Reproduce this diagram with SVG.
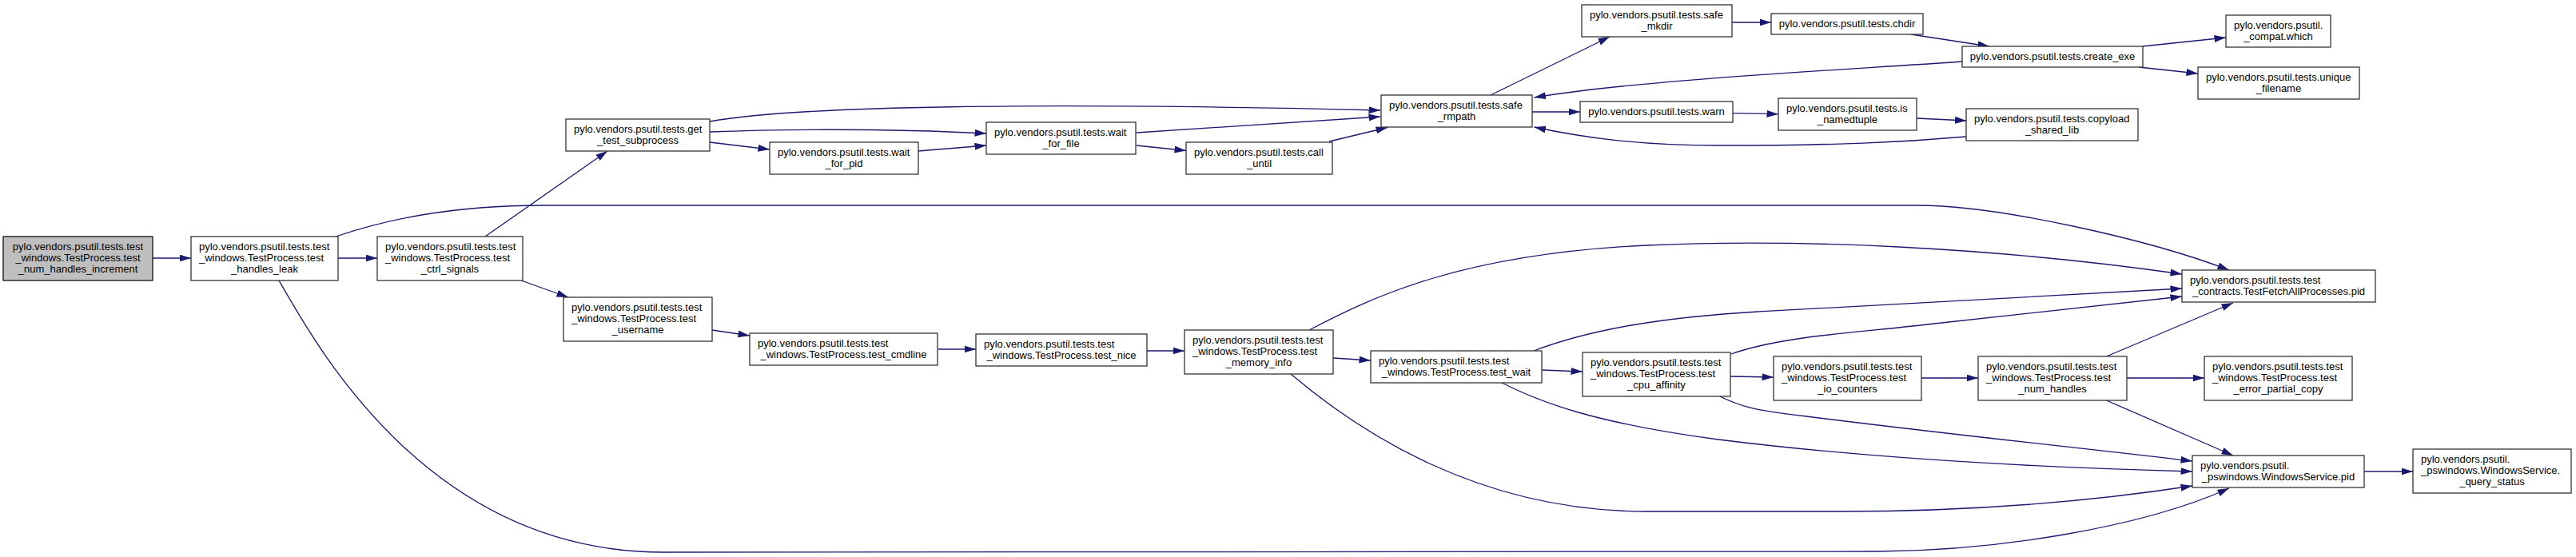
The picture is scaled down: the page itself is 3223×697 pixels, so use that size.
<svg xmlns="http://www.w3.org/2000/svg" width="3223" height="697" viewBox="0 0 3223 697">
<style>
.node rect{fill:#fff;stroke:#333;stroke-width:1.3}
.root rect{fill:#bfbfbf;stroke:#111}
text{font-family:"Liberation Sans",Arial,sans-serif;font-size:13px;fill:#000}
.c{text-anchor:middle}
#edges path{fill:none;stroke:#191970;stroke-width:1.3;marker-end:url(#arr)}
</style>
<defs>
<marker id="arr" markerUnits="userSpaceOnUse" markerWidth="16" markerHeight="10" refX="14.5" refY="4.5" orient="auto"><path d="M0,0 L14.5,4.5 L0,9 Z" fill="#191970" stroke="none"/></marker>
</defs>
<rect x="0" y="0" width="3223" height="697" fill="#fff"/>
<g id="edges">
<path d="M191,323 L239,323"/>
<path d="M423,323 L472,323"/>
<path d="M420,296 C480,276 560,257 680,257 L2400,257 C2500,257 2690,300 2789,338"/>
<path d="M349,351 C400,440 540,691 830,691 L2350,690 C2500,689 2680,660 2789,611"/>
<path d="M607,296 L760,189"/>
<path d="M652,351 L711,372"/>
<path d="M888,152 C1000,132 1300,128 1727,138"/>
<path d="M1422,166 L1727,146"/>
<path d="M888,165 C960,162 1100,160 1234,167"/>
<path d="M888,178 L963,187"/>
<path d="M1149,189 L1234,182"/>
<path d="M1422,182 L1484,188.5"/>
<path d="M1663,177 L1736,159.5"/>
<path d="M1865,119 L2014,46"/>
<path d="M1917,140 L1977,140"/>
<path d="M2167,28 L2216,28"/>
<path d="M2391,43 L2489,58"/>
<path d="M2455,77 C2300,88 2050,100 1919.5,122"/>
<path d="M2680.5,58 L2785,47"/>
<path d="M2676,84 L2750,92"/>
<path d="M2168,141.7 L2225,142.7"/>
<path d="M2398,148 L2460.5,151"/>
<path d="M2460,171 C2380,178 2300,182 2150,182 C2050,182 1980,172 1919.5,159"/>
<path d="M891,413 L938,420"/>
<path d="M1174,437 L1221,437"/>
<path d="M1435,439 L1482,439"/>
<path d="M1668,448 L1715,451"/>
<path d="M1929.5,463 L1980,465"/>
<path d="M2165,471 L2219,472"/>
<path d="M2404,473 L2475,473"/>
<path d="M2661,473 L2758,473"/>
<path d="M2635.5,446 L2794,379"/>
<path d="M2635.5,501 L2794,570"/>
<path d="M2958,590 L3019,590"/>
<path d="M1638,413 C1720,370 1830,318 2060,307 C2250,298 2500,310 2730,343"/>
<path d="M1919,439 C1990,412 2080,397 2200,390 C2400,380 2600,368 2730,361"/>
<path d="M2166,443 C2230,420 2330,416 2420,405 C2550,390 2650,380 2730,371"/>
<path d="M2152,496 C2180,510 2200,514 2260,521 C2450,545 2600,560 2743,577"/>
<path d="M1879,479 C1930,505 2000,530 2150,550 C2350,575 2550,585 2743,590"/>
<path d="M1615,468 C1700,540 1850,640 2060,640 L2300,640 C2450,640 2600,630 2743,608"/>
</g>
<g id="n1" class="node root"><rect x="4" y="296" width="187" height="55"/><text class="c" x="97.5" y="313">pylo.vendors.psutil.tests.test</text><text class="c" x="97.5" y="327.2">_windows.TestProcess.test</text><text class="c" x="97.5" y="341.4">_num_handles_increment</text></g>
<g id="n2" class="node"><rect x="239" y="296" width="184" height="55"/><text x="249" y="313">pylo.vendors.psutil.tests.test</text><text x="249" y="327.2">_windows.TestProcess.test</text><text class="c" x="331" y="341.4">_handles_leak</text></g>
<g id="n3" class="node"><rect x="472" y="296" width="182" height="55"/><text x="482" y="313">pylo.vendors.psutil.tests.test</text><text x="482" y="327.2">_windows.TestProcess.test</text><text class="c" x="563" y="341.4">_ctrl_signals</text></g>
<g id="n4" class="node"><rect x="708" y="149" width="180" height="40"/><text x="718" y="166">pylo.vendors.psutil.tests.get</text><text class="c" x="798" y="180.2">_test_subprocess</text></g>
<g id="n5" class="node"><rect x="963" y="178" width="186" height="40"/><text x="973" y="195">pylo.vendors.psutil.tests.wait</text><text class="c" x="1056" y="209.2">_for_pid</text></g>
<g id="n6" class="node"><rect x="1234" y="153" width="187" height="40"/><text x="1244" y="170">pylo.vendors.psutil.tests.wait</text><text class="c" x="1327.5" y="184.2">_for_file</text></g>
<g id="n7" class="node"><rect x="1484" y="178" width="183" height="40"/><text x="1494" y="195">pylo.vendors.psutil.tests.call</text><text class="c" x="1575.5" y="209.2">_until</text></g>
<g id="n8" class="node"><rect x="1728" y="119" width="189" height="40"/><text x="1738" y="136">pylo.vendors.psutil.tests.safe</text><text class="c" x="1822.5" y="150.2">_rmpath</text></g>
<g id="n9" class="node"><rect x="1979" y="6" width="188" height="40"/><text x="1989" y="23">pylo.vendors.psutil.tests.safe</text><text class="c" x="2073" y="37.2">_mkdir</text></g>
<g id="n10" class="node"><rect x="2216" y="17" width="190" height="26"/><text class="c" x="2311" y="34">pylo.vendors.psutil.tests.chdir</text></g>
<g id="n11" class="node"><rect x="2455" y="58" width="226" height="26"/><text class="c" x="2568" y="75">pylo.vendors.psutil.tests.create_exe</text></g>
<g id="n12" class="node"><rect x="2785" y="19" width="131" height="40"/><text x="2795" y="36">pylo.vendors.psutil.</text><text class="c" x="2850.5" y="50.2">_compat.which</text></g>
<g id="n13" class="node"><rect x="2750" y="84" width="202" height="40"/><text x="2760" y="101">pylo.vendors.psutil.tests.unique</text><text class="c" x="2851" y="115.2">_filename</text></g>
<g id="n14" class="node"><rect x="1977" y="127" width="191" height="26"/><text class="c" x="2072.5" y="144">pylo.vendors.psutil.tests.warn</text></g>
<g id="n15" class="node"><rect x="2225" y="123" width="173" height="40"/><text x="2235" y="140">pylo.vendors.psutil.tests.is</text><text class="c" x="2311.5" y="154.2">_namedtuple</text></g>
<g id="n16" class="node"><rect x="2460" y="136" width="215" height="40"/><text x="2470" y="153">pylo.vendors.psutil.tests.copyload</text><text class="c" x="2567.5" y="167.2">_shared_lib</text></g>
<g id="n17" class="node"><rect x="705" y="372" width="186" height="55"/><text x="715" y="389">pylo.vendors.psutil.tests.test</text><text x="715" y="403.2">_windows.TestProcess.test</text><text class="c" x="798" y="417.4">_username</text></g>
<g id="n18" class="node"><rect x="938" y="417" width="235" height="40"/><text x="948" y="434">pylo.vendors.psutil.tests.test</text><text class="c" x="1055.5" y="448.2">_windows.TestProcess.test_cmdline</text></g>
<g id="n19" class="node"><rect x="1221" y="418" width="214" height="40"/><text x="1231" y="435">pylo.vendors.psutil.tests.test</text><text class="c" x="1328" y="449.2">_windows.TestProcess.test_nice</text></g>
<g id="n20" class="node"><rect x="1482" y="413" width="186" height="55"/><text x="1492" y="430">pylo.vendors.psutil.tests.test</text><text x="1492" y="444.2">_windows.TestProcess.test</text><text class="c" x="1575" y="458.4">_memory_info</text></g>
<g id="n21" class="node"><rect x="1715" y="439" width="214" height="40"/><text x="1725" y="456">pylo.vendors.psutil.tests.test</text><text class="c" x="1822" y="470.2">_windows.TestProcess.test_wait</text></g>
<g id="n22" class="node"><rect x="1980" y="441" width="185" height="55"/><text x="1990" y="458">pylo.vendors.psutil.tests.test</text><text x="1990" y="472.2">_windows.TestProcess.test</text><text class="c" x="2072.5" y="486.4">_cpu_affinity</text></g>
<g id="n23" class="node"><rect x="2219" y="446" width="185" height="55"/><text x="2229" y="463">pylo.vendors.psutil.tests.test</text><text x="2229" y="477.2">_windows.TestProcess.test</text><text class="c" x="2311.5" y="491.4">_io_counters</text></g>
<g id="n24" class="node"><rect x="2475" y="446" width="186" height="55"/><text x="2485" y="463">pylo.vendors.psutil.tests.test</text><text x="2485" y="477.2">_windows.TestProcess.test</text><text class="c" x="2568" y="491.4">_num_handles</text></g>
<g id="n25" class="node"><rect x="2758" y="446" width="185" height="55"/><text x="2768" y="463">pylo.vendors.psutil.tests.test</text><text x="2768" y="477.2">_windows.TestProcess.test</text><text class="c" x="2850.5" y="491.4">_error_partial_copy</text></g>
<g id="n26" class="node"><rect x="2730" y="338" width="242" height="40"/><text x="2740" y="355">pylo.vendors.psutil.tests.test</text><text class="c" x="2851" y="369.2">_contracts.TestFetchAllProcesses.pid</text></g>
<g id="n27" class="node"><rect x="2743" y="570" width="215" height="40"/><text x="2753" y="587">pylo.vendors.psutil.</text><text class="c" x="2850.5" y="601.2">_pswindows.WindowsService.pid</text></g>
<g id="n28" class="node"><rect x="3019" y="562" width="198" height="55"/><text x="3029" y="579">pylo.vendors.psutil.</text><text x="3029" y="593.2">_pswindows.WindowsService.</text><text class="c" x="3118" y="607.4">_query_status</text></g>
</svg>
